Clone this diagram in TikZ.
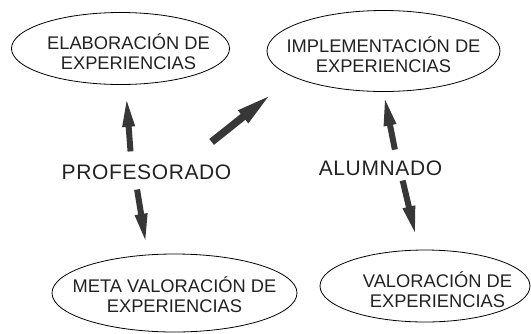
\documentclass[tikz,border=0pt]{standalone}
\usepackage{fontspec}
\setmainfont{Liberation Sans}
\newfontfamily\spacedfont[LetterSpace=3]{Liberation Sans}
\usetikzlibrary{shapes.geometric,arrows.meta}
\definecolor{inkgray}{RGB}{34,34,34}
\definecolor{arrowgray}{RGB}{55,55,55}

\begin{document}
\begin{tikzpicture}[
x=1pt,y=-1pt,
oval/.style={ellipse,draw,line width=0.8pt,inner sep=0pt},
ovaltext/.style={align=center,inner sep=0pt,text=inkgray,font=\fontsize{18.3}{20}\selectfont},
actor/.style={inner sep=0pt,text=inkgray,font=\spacedfont\fontsize{21}{25}\selectfont},
bigarrow/.style={draw=arrowgray,line width=6pt,-{Triangle[length=31pt,width=11pt]}}
]
\useasboundingbox (0,0) rectangle (531,333);

% the four activities
\node[oval,minimum width=218pt,minimum height=72pt] (elab) at (120.5,48.5) {};
\node[ovaltext] (elabtext) at ([xshift=8pt,yshift=-3.5pt]elab.center) {ELABORACIÓN DE\\EXPERIENCIAS};
\node[oval,minimum width=233pt,minimum height=81pt] (impl) at (383.5,51) {};
\node[ovaltext] (impltext) at ([yshift=-4pt]impl.center) {IMPLEMENTACIÓN DE\\EXPERIENCIAS};
\node[oval,minimum width=245pt,minimum height=78pt] (meta) at (174.5,293) {};
\node[ovaltext] (metatext) at ([yshift=-2pt]meta.center) {META VALORACIÓN DE\\EXPERIENCIAS};
\node[oval,minimum width=210pt,minimum height=72pt] (valo) at (425,286) {};
\node[ovaltext] (valotext) at ([xshift=12.5pt,yshift=-3.5pt]valo.center) {VALORACIÓN DE\\EXPERIENCIAS};

% who does it
\node[actor] (prof) at (146.5,172) {PROFESORADO};
\node[actor] (alum) at (380.5,168) {ALUMNADO};

\draw[bigarrow,shorten <=13pt,shorten >=11pt] ([xshift=-15pt]prof.north) -- ([xshift=5pt]elab.south);
\draw[bigarrow,shorten <=10pt,shorten >=9pt] ([xshift=-11pt]prof.south) -- ([xshift=-27pt]meta.north);
\draw[bigarrow,line width=7.5pt,-{Triangle[length=38pt,width=14pt]},shorten <=36pt,shorten >=26pt] ([xshift=37pt]prof.north) -- (impl.196);
\draw[bigarrow,shorten <=11pt,shorten >=3pt] ([xshift=16.5pt]alum.north) -- (impl.south);
\draw[bigarrow,shorten <=5pt,shorten >=13pt] ([xshift=21pt]alum.south) -- ([xshift=-6pt]valo.north);
\end{tikzpicture}
\end{document}
